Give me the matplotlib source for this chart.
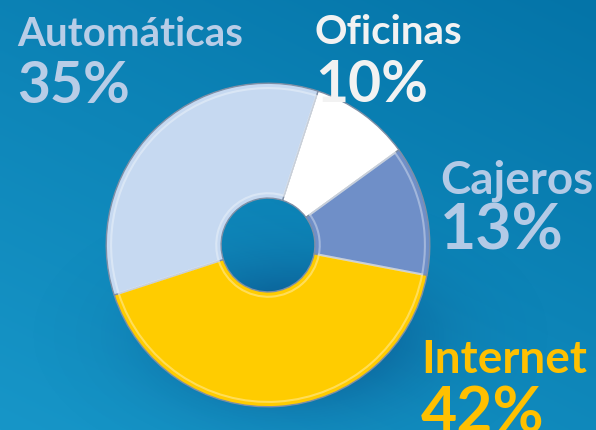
import numpy as np
import matplotlib
matplotlib.use("Agg")
import matplotlib.pyplot as plt

# data, clockwise from the top
labels = ["Oficinas", "Cajeros", "Internet", "Automáticas"]
shares = [10, 13, 42, 35]
pct_labels = ["10%", "13%", "42%", "35%"]

slice_colors = ["#FFFFFF", "#6F8FC8", "#FFCC00", "#C6D9F1"]
text_colors = ["#F2F2F2", "#B3CAE6", "#FFC000", "#B8CDE7"]
# label baseline positions in pixels (x, y from top) for name and percent, plus sizes
label_pos = [(315, 44, 102), (440, 194, 249), (421, 373, 433), (17, 46, 103)]
label_size = [(29, 41), (33, 45), (33, 45), (29, 41)]

W, H = 596, 431


def main():
    fig = plt.figure(figsize=(W / 100, H / 100), dpi=100)

    # background gradient
    bg = fig.add_axes([0, 0, 1, 1])
    yy, xx = np.mgrid[0:1:200j, 0:1:200j]
    t = 0.6 * yy + 0.4 * (1 - xx)
    c_top = np.array([0x04, 0x74, 0xA8]) / 255
    c_bot = np.array([0x17, 0x96, 0xC8]) / 255
    img = c_top[None, None, :] * (1 - t[..., None]) + c_bot[None, None, :] * t[..., None]
    bg.imshow(img, extent=[0, W, H, 0], aspect="auto", origin="upper")

    # soft shadow under the donut
    sy, sx = np.mgrid[0:H, 0:W]
    d = ((sx - 290) / 170.0) ** 2 + ((sy - 335) / 95.0) ** 2
    shade = np.zeros((H, W, 4))
    shade[..., 2] = 0.25
    shade[..., 3] = 0.38 * np.exp(-d * 2.0)
    bg.imshow(shade, extent=[0, W, H, 0], aspect="auto", origin="upper")
    bg.set_xlim(0, W)
    bg.set_ylim(H, 0)
    bg.axis("off")

    # donut
    cx, cy, r = 268, 246, 165
    ax = fig.add_axes([(cx - r) / W, (H - cy - r) / H, 2 * r / W, 2 * r / H])
    ax.pie(shares, colors=slice_colors, startangle=72, counterclock=False,
           radius=1.0, wedgeprops=dict(width=0.71, edgecolor="#7F8FA6", linewidth=1.0))
    # bevel-ish highlight rings
    ax.pie(shares, colors=["none"] * 4, startangle=72, counterclock=False, radius=0.97,
           wedgeprops=dict(width=0.65, edgecolor=(1, 1, 1, 0.35), linewidth=1.5, fill=False))
    ax.set_xlim(-1.02, 1.02)
    ax.set_ylim(-1.02, 1.02)
    ax.axis("off")

    fnt = ["Lato", "DejaVu Sans"]
    for name, pct, col, (x, yn, yp), (s1, s2) in zip(labels, pct_labels, text_colors,
                                                   label_pos, label_size):
        fig.text(x / W, 1 - yn / H, name, color=col, fontsize=s1, fontweight="bold",
                 family=fnt, va="baseline", ha="left")
        fig.text(x / W, 1 - yp / H, pct, color=col, fontsize=s2, fontweight="bold",
                 family=fnt, va="baseline", ha="left")

    fig.savefig("out.png", dpi=100)
    plt.close(fig)


if __name__ == "__main__":
    main()
